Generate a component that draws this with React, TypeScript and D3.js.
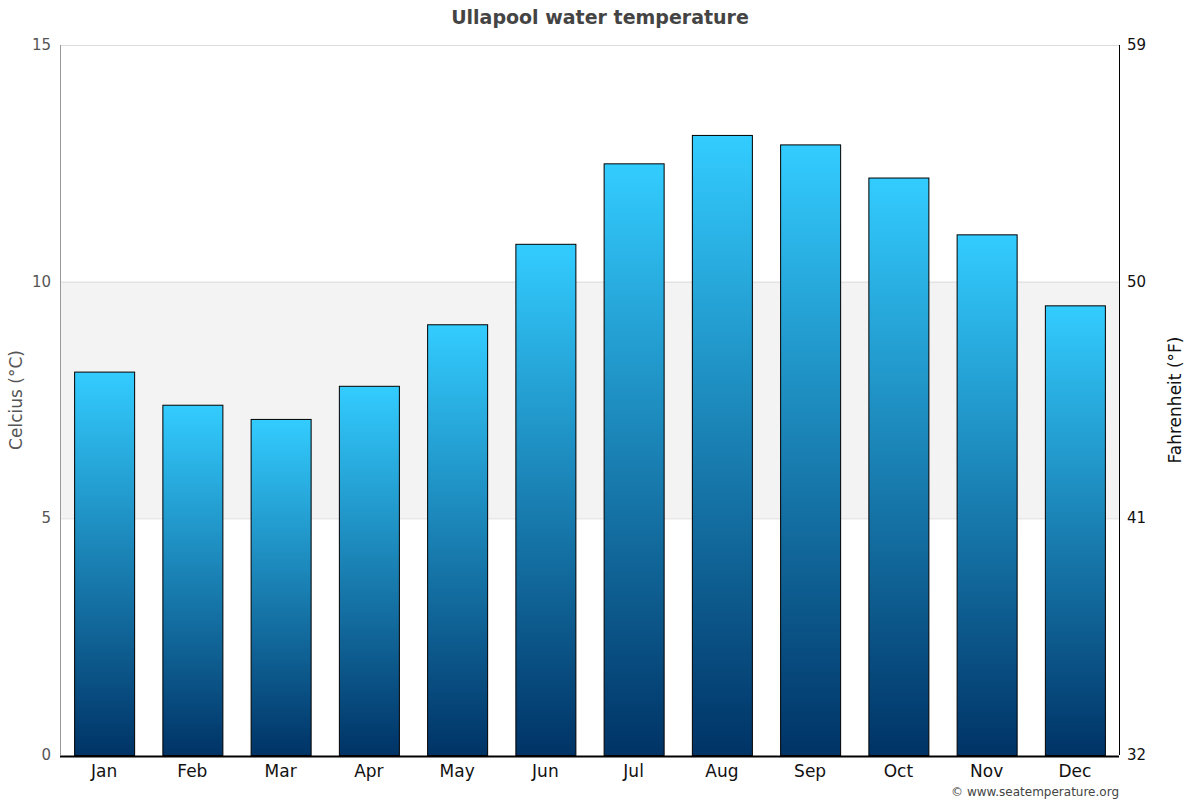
import * as d3 from 'd3';
import React, { useEffect, useRef } from 'react';

const months = ['Jan', 'Feb', 'Mar', 'Apr', 'May', 'Jun', 'Jul', 'Aug', 'Sep', 'Oct', 'Nov', 'Dec'];
const tempC = [8.1, 7.4, 7.1, 7.8, 9.1, 10.8, 12.5, 13.1, 12.9, 12.2, 11.0, 9.5];
const celsiusTicks = [0, 5, 10, 15];
const fahrenheitTicks = [32, 41, 50, 59];

const App = () => {
	const ref = useRef<SVGSVGElement>(null);
	const width = 1200;
	const height = 800;
	const margin = { top: 45, right: 81, bottom: 45, left: 60 };

	useEffect(() => {
		const svg = d3.select(ref.current);
		svg.selectAll('*').remove();
		const font = 'DejaVu Sans, sans-serif';

		const x = d3
			.scaleBand()
			.domain(months)
			.range([margin.left, width - margin.right])
			.paddingInner(0.32)
			.paddingOuter(0.16);
		const y = d3.scaleLinear().domain([0, 15]).range([height - margin.bottom, margin.top]);
		const yF = d3.scaleLinear().domain([32, 59]).range([height - margin.bottom, margin.top]);

		const grad = svg
			.append('defs')
			.append('linearGradient')
			.attr('id', 'barGrad')
			.attr('x1', 0)
			.attr('y1', 0)
			.attr('x2', 0)
			.attr('y2', 1);
		grad.append('stop').attr('offset', '0%').attr('stop-color', '#33ccff');
		grad.append('stop').attr('offset', '100%').attr('stop-color', '#003366');

		// shaded band 5..10
		svg.append('rect')
			.attr('x', margin.left)
			.attr('y', y(10))
			.attr('width', width - margin.left - margin.right)
			.attr('height', y(5) - y(10))
			.attr('fill', '#f3f3f3');

		svg.append('g')
			.selectAll('line')
			.data(celsiusTicks.filter(t => t > 0))
			.join('line')
			.attr('x1', margin.left)
			.attr('x2', width - margin.right)
			.attr('y1', d => y(d) + 0.5)
			.attr('y2', d => y(d) + 0.5)
			.attr('stroke', '#dddddd');

		svg.append('g')
			.selectAll('rect')
			.data(tempC)
			.join('rect')
			.attr('x', (d, i) => (x(months[i]) as number) + 0.5)
			.attr('y', d => y(d) + 0.5)
			.attr('width', x.bandwidth())
			.attr('height', d => y(0) - y(d))
			.attr('fill', 'url(#barGrad)')
			.attr('stroke', '#000')
			.attr('stroke-width', 1);

		// left axis
		svg.append('line')
			.attr('x1', margin.left + 0.5)
			.attr('x2', margin.left + 0.5)
			.attr('y1', margin.top)
			.attr('y2', height - margin.bottom)
			.attr('stroke', '#999');
		svg.append('g')
			.selectAll('text')
			.data(celsiusTicks)
			.join('text')
			.attr('x', margin.left - 9)
			.attr('y', d => y(d) + 5)
			.attr('text-anchor', 'end')
			.attr('font-family', font)
			.attr('font-size', 15)
			.attr('fill', '#555')
			.text(d => d);

		// right axis
		svg.append('line')
			.attr('x1', width - margin.right + 0.5)
			.attr('x2', width - margin.right + 0.5)
			.attr('y1', margin.top)
			.attr('y2', height - margin.bottom)
			.attr('stroke', '#000');
		svg.append('g')
			.selectAll('text')
			.data(fahrenheitTicks)
			.join('text')
			.attr('x', width - margin.right + 8)
			.attr('y', d => yF(d) + 5)
			.attr('text-anchor', 'start')
			.attr('font-family', font)
			.attr('font-size', 15)
			.attr('fill', '#111')
			.text(d => d);

		// bottom axis
		svg.append('line')
			.attr('x1', margin.left)
			.attr('x2', width - margin.right)
			.attr('y1', height - margin.bottom + 1.5)
			.attr('y2', height - margin.bottom + 1.5)
			.attr('stroke', '#000')
			.attr('stroke-width', 2);
		svg.append('g')
			.selectAll('text')
			.data(months)
			.join('text')
			.attr('x', d => (x(d) as number) + x.bandwidth() / 2)
			.attr('y', height - margin.bottom + 22)
			.attr('text-anchor', 'middle')
			.attr('font-family', font)
			.attr('font-size', 17)
			.attr('fill', '#111')
			.text(d => d);

		svg.append('text')
			.attr('x', width / 2)
			.attr('y', 24)
			.attr('text-anchor', 'middle')
			.attr('font-family', font)
			.attr('font-size', 19)
			.attr('font-weight', 'bold')
			.attr('fill', '#444')
			.text('Ullapool water temperature');

		svg.append('text')
			.attr('transform', `translate(22,${(margin.top + height - margin.bottom) / 2}) rotate(-90)`)
			.attr('text-anchor', 'middle')
			.attr('font-family', font)
			.attr('font-size', 17)
			.attr('fill', '#555')
			.text('Celcius (°C)');

		svg.append('text')
			.attr('transform', `translate(1181,${(margin.top + height - margin.bottom) / 2}) rotate(-90)`)
			.attr('text-anchor', 'middle')
			.attr('font-family', font)
			.attr('font-size', 17)
			.attr('fill', '#111')
			.text('Fahrenheit (°F)');

		svg.append('text')
			.attr('x', 1119)
			.attr('y', 796)
			.attr('text-anchor', 'end')
			.attr('font-family', font)
			.attr('font-size', 12)
			.attr('fill', '#444')
			.text('© www.seatemperature.org');
	}, []);

	return (
		<svg
			ref={ref}
			width={width}
			height={height}
			style={{ position: 'absolute', left: 0, top: 0, background: '#fff' }}
		/>
	);
};

export default App;
